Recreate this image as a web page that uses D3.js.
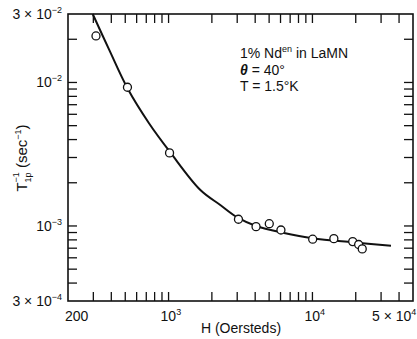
<!DOCTYPE html>
<html>
<head>
<meta charset="utf-8">
<script src="https://cdn.jsdelivr.net/npm/d3@7"></script>
<style>
  body { margin: 0; background: #fff; }
  svg { display: block; font-family: "Liberation Sans", "DejaVu Sans", sans-serif; }
</style>
</head>
<body>
<svg id="chart" width="417" height="339"></svg>
<script>
// measured points (H in Oersteds, rate in sec^-1)
var pointH = [313, 518, 1016, 3060, 4055, 5012, 6040, 10040, 14090, 19050, 20950, 22190];
var pointRate = [0.0211, 0.00926, 0.00323, 0.001114, 0.000989, 0.001037, 0.000937, 0.000809, 0.000816, 0.000778, 0.000743, 0.000692];

// smooth curve
var curveH = [297, 387, 518, 731, 1032, 1664, 2288, 3046, 4057, 6232, 10050, 18990, 35160];
var curveRate = [0.0300, 0.01685, 0.00911, 0.00520, 0.00324, 0.00178, 0.00140, 0.001137, 0.001000, 0.000898, 0.000821, 0.000770, 0.000729];

var xTicks = [300, 400, 500, 600, 700, 800, 900, 1000, 2000, 3000, 4000, 5000, 6000, 7000, 8000, 9000, 10000, 20000, 30000, 40000];
var yTicks = [0.02, 0.01, 0.009, 0.008, 0.007, 0.006, 0.005, 0.004, 0.003, 0.002, 0.001, 0.0009, 0.0008, 0.0007, 0.0006, 0.0005, 0.0004];

var xLabels = [{v: 200, base: "200", sup: ""}, {v: 1000, base: "10", sup: "3"}, {v: 10000, base: "10", sup: "4"}, {v: 50000, base: "5 × 10", sup: "4"}];
var yLabels = [{v: 0.03, base: "3 × 10", sup: "−2"}, {v: 0.01, base: "10", sup: "−2"}, {v: 0.001, base: "10", sup: "−3"}, {v: 0.0003, base: "3 × 10", sup: "−4"}];

var svg = d3.select("#chart");
var plotL = 68, plotR = 413, plotT = 14, plotB = 301;

var x = d3.scaleLog().domain([200, 50000]).range([plotL, plotR]);
var y = d3.scaleLog().domain([0.0003, 0.03]).range([plotB, plotT]);

var tickLen = 9;
var g = svg.append("g");

// ticks on all four sides, pointing inward
xTicks.forEach(function(t) {
  g.append("line").attr("x1", x(t)).attr("x2", x(t)).attr("y1", plotB).attr("y2", plotB - tickLen)
    .attr("stroke", "#111").attr("stroke-width", 1.3);
  g.append("line").attr("x1", x(t)).attr("x2", x(t)).attr("y1", plotT).attr("y2", plotT + tickLen)
    .attr("stroke", "#111").attr("stroke-width", 1.3);
});
yTicks.forEach(function(t) {
  g.append("line").attr("x1", plotL).attr("x2", plotL + tickLen).attr("y1", y(t)).attr("y2", y(t))
    .attr("stroke", "#111").attr("stroke-width", 1.3);
  g.append("line").attr("x1", plotR).attr("x2", plotR - tickLen).attr("y1", y(t)).attr("y2", y(t))
    .attr("stroke", "#111").attr("stroke-width", 1.3);
});

// frame
g.append("rect").attr("x", plotL).attr("y", plotT).attr("width", plotR - plotL).attr("height", plotB - plotT)
  .attr("fill", "none").attr("stroke", "#111").attr("stroke-width", 1.6);

// x labels
xLabels.forEach(function(d) {
  var tx = g.append("text").attr("y", 321).attr("font-size", 14).attr("fill", "#111");
  if (d.v === 200) {
    tx.attr("x", x(d.v) - 3);
  } else if (d.v === 50000) {
    tx.attr("x", 372);
  } else {
    tx.attr("x", x(d.v) - 8);
  }
  tx.append("tspan").text(d.base);
  if (d.sup) tx.append("tspan").attr("dy", -6).attr("font-size", 9).text(d.sup);
});

// y labels, right aligned to x=62
yLabels.forEach(function(d) {
  var tx = g.append("text").attr("x", 62).attr("y", y(d.v) + 5).attr("text-anchor", "end")
    .attr("font-size", 14).attr("fill", "#111");
  tx.append("tspan").text(d.base);
  tx.append("tspan").attr("dy", -6).attr("font-size", 9).text(d.sup);
});

// axis titles
g.append("text").attr("x", 241).attr("y", 333).attr("text-anchor", "middle")
  .attr("font-size", 14).attr("fill", "#111").text("H (Oersteds)");

var yt = g.append("text").attr("transform", "translate(27,158) rotate(-90)").attr("text-anchor", "middle")
  .attr("font-size", 15).attr("fill", "#111");
yt.append("tspan").text("T");
yt.append("tspan").attr("dy", 4).attr("font-size", 9).text("1p");
yt.append("tspan").attr("dx", -10).attr("dy", -12).attr("font-size", 9).text("−1");
yt.append("tspan").attr("dy", 8).text(" (sec");
yt.append("tspan").attr("dy", -6).attr("font-size", 9).text("−1");
yt.append("tspan").attr("dy", 6).text(")");

// annotation
var a1 = g.append("text").attr("x", 240).attr("y", 58).attr("font-size", 14).attr("fill", "#111");
a1.append("tspan").text("1% Nd");
a1.append("tspan").attr("dy", -6).attr("font-size", 9).text("en");
a1.append("tspan").attr("dy", 6).text(" in LaMN");
var a2 = g.append("text").attr("x", 240).attr("y", 75).attr("font-size", 14).attr("fill", "#111");
a2.append("tspan").attr("font-style", "italic").attr("font-weight", "bold").text("θ");
a2.append("tspan").text(" = 40°");
g.append("text").attr("x", 240).attr("y", 91).attr("font-size", 14).attr("fill", "#111").text("T = 1.5°K");

// fitted curve
var line = d3.line()
  .x(function(d) { return x(d[0]); })
  .y(function(d) { return y(d[1]); })
  .curve(d3.curveCatmullRom);
g.append("path").datum(d3.zip(curveH, curveRate)).attr("d", line)
  .attr("fill", "none").attr("stroke", "#111").attr("stroke-width", 2);

// data points
g.selectAll("circle.pt").data(d3.zip(pointH, pointRate)).enter().append("circle")
  .attr("class", "pt")
  .attr("cx", function(d) { return x(d[0]); })
  .attr("cy", function(d) { return y(d[1]); })
  .attr("r", 4)
  .attr("fill", "#fff").attr("stroke", "#111").attr("stroke-width", 1.3);
</script>
</body>
</html>
